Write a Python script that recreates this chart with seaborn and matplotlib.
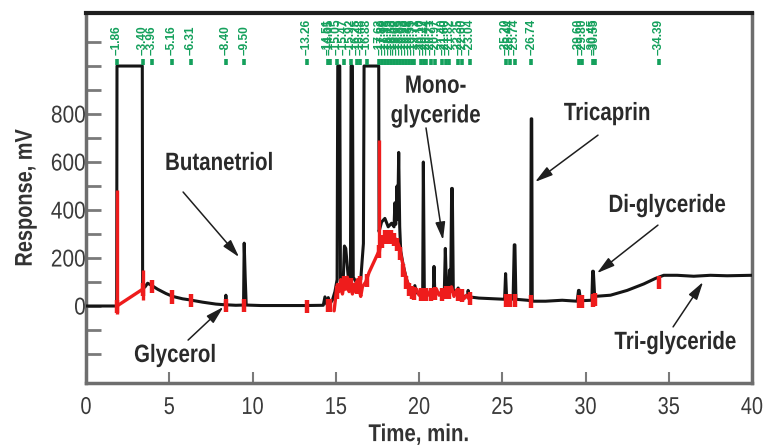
import matplotlib
matplotlib.use("Agg")
import matplotlib.pyplot as plt
from matplotlib.patheffects import AbstractPathEffect
from matplotlib.transforms import Affine2D
import numpy as np
import pandas as pd
import seaborn as sns

# ---------------- data ----------------
# black detector trace (time in min, response in mV), split by region
tA = [0, 1.84, 1.86, 3.38, 3.40, 3.55, 3.70, 3.96, 4.30, 4.80, 5.14, 5.16, 5.20, 5.80, 6.29, 6.31, 6.35,
      7.00, 7.80, 8.36, 8.40, 8.44, 9.00, 9.46, 9.50, 9.56, 9.62]
vA = [0, 0, 1000, 1000, 72, 80, 95, 85, 70, 52, 42, 48, 40, 30, 25, 30, 24,
      16, 8, 5, 45, 5, 3, 4, 262, 120, 4]
tB = [10.5, 12.0, 13.2, 14.25, 14.35, 14.45, 14.55, 14.65, 14.80, 14.95, 15.08, 15.12, 15.24, 15.28,
      15.45, 15.52, 15.60, 15.75, 15.88, 15.92, 16.00, 16.05, 16.30, 16.50, 16.66, 16.70, 17.58, 17.60]
vB = [2, 2, 2, 3, 38, 8, 35, 10, 25, 60, 110, 1000, 1000, 100,
      110, 250, 240, 120, 110, 1000, 1000, 120, 90, 110, 260, 1000, 1000, 310]
tC = [17.75, 17.95, 18.15, 18.35, 18.50, 18.55, 18.60, 18.68, 18.72, 18.78, 18.84, 18.90, 19.05, 19.25,
      19.45, 19.65, 19.75, 19.85, 20.15, 20.22, 20.26, 20.32, 20.60, 20.86, 20.90, 20.95, 21.30, 21.52,
      21.58, 21.65, 21.78, 21.83, 21.90, 21.96, 22.00, 22.06, 22.30, 22.35, 22.45, 22.90, 22.95, 23.02, 23.60]
vC = [350, 365, 330, 345, 330, 430, 340, 500, 360, 640, 330, 230, 170, 110,
      75, 60, 85, 55, 50, 50, 600, 50, 50, 55, 165, 55, 50, 60,
      240, 70, 60, 150, 60, 490, 490, 60, 65, 75, 45, 38, 65, 38, 33]
tD = [24.50, 25.14, 25.20, 25.26, 25.65, 25.72, 25.76, 25.82, 26.50, 26.71, 26.74, 26.77, 26.80, 27.60,
      28.60, 29.50, 29.58, 29.62, 29.70, 30.38, 30.43, 30.47, 30.55, 31.50, 32.50, 33.50, 34.20, 34.70,
      35.50, 36.50, 37.50, 38.50, 40.00]
vD = [30, 28, 135, 35, 28, 255, 255, 28, 24, 22, 780, 780, 20, 20,
      24, 20, 65, 65, 22, 24, 145, 145, 40, 45, 65, 92, 115, 128,
      128, 124, 128, 126, 128]

# red integration baseline
red1_t = [1.86, 3.40]
red1_v = [0, 70]
red2_t = [14.90, 15.00, 15.10, 15.20, 15.30, 15.40, 15.50, 15.60, 15.70, 15.80, 15.90, 16.00, 16.10, 16.20,
          16.30, 16.40, 16.50, 16.60, 16.80, 17.00, 17.20, 17.40, 17.60, 17.75, 17.90, 18.05, 18.20, 18.35,
          18.50, 18.65, 18.80, 18.95, 19.10, 19.25, 19.40, 19.55, 19.70, 19.85, 20.00, 20.15, 20.30, 20.45,
          20.60, 20.75, 20.90, 21.05, 21.20, 21.35, 21.50, 21.65, 21.80, 21.95, 22.10, 22.25, 22.40, 22.55,
          22.70, 22.85, 23.00, 23.15]
red2_v = [-20, 40, 90, 60, 110, 50, 90, 70, 120, 60, 100, 50, 90, 60,
          110, 70, 40, 80, 100, 140, 170, 200, 230, 265, 285, 295, 280, 295,
          285, 275, 250, 200, 150, 110, 80, 70, 55, 70, 45, 60, 40, 65,
          45, 55, 40, 70, 45, 60, 40, 75, 50, 80, 40, 65, 35, 50,
          30, 45, 30, 35]
# red vertical peak edges
redseg_t = [1.86, 3.40, 17.60]
redseg_lo = [-35, 25, 230]
redseg_hi = [483, 150, 690]

# retention times (green labels) and local baseline for red peak marks
rt = [1.86, 3.40, 3.96, 5.16, 6.31, 8.40, 9.50, 13.26, 14.51, 14.65, 15.05, 15.47, 15.92, 16.25, 16.48,
      16.88, 17.62, 17.80, 17.98, 18.15, 18.33, 18.50, 18.68, 18.85, 19.03, 19.20, 19.38, 19.55, 19.71,
      20.10, 20.27, 20.44, 20.71, 20.97, 21.40, 21.60, 21.82, 22.35, 22.60, 23.04, 25.20, 25.44, 25.74,
      26.74, 29.60, 29.80, 30.45, 30.55, 34.39]
rt_base = [0, 70, 85, 40, 25, 5, 5, 0, 5, 5, 60, 100, 90, 80, 100,
           110, 230, 270, 290, 290, 290, 280, 260, 220, 150, 100, 70, 60, 55,
           50, 50, 50, 50, 55, 50, 60, 60, 50, 45, 35, 25, 25, 25,
           20, 20, 20, 25, 30, 100]

y_ticks = list(range(-200, 1101, 100))
y_labels = ["0", "200", "400", "600", "800"]
x_ticks = list(range(0, 41, 5))


# narrow (condensed) look for text: squeeze glyph paths along the text direction
class Narrow(AbstractPathEffect):
    def __init__(self, sx=0.82, anchor="center"):
        super().__init__()
        self.sx = sx
        self.anchor = anchor

    def draw_path(self, renderer, gc, tpath, affine, rgbFace=None):
        ext = tpath.get_extents()
        if self.anchor == "right":
            cx = ext.x1
        elif self.anchor == "left":
            cx = ext.x0
        else:
            cx = 0.5 * (ext.x0 + ext.x1)
        sq = Affine2D().translate(-cx, 0).scale(self.sx, 1).translate(cx, 0)
        renderer.draw_path(gc, tpath, sq + affine, rgbFace)


# ---------------- plot ----------------
sns.set_theme(style="white")
plt.rcParams["font.family"] = ["Liberation Sans", "DejaVu Sans"]

fig = plt.figure(figsize=(7.64, 4.48), dpi=100)
ax = fig.add_axes([0.1126, 0.145, 0.8717, 0.826])

black = pd.DataFrame({"t": tA + tB + tC + tD, "v": vA + vB + vC + vD})
sns.lineplot(data=black, x="t", y="v", sort=False, estimator=None, color="#151515",
             lw=2.2, ax=ax, zorder=3)

red = pd.DataFrame({"t": red1_t + red2_t, "v": red1_v + red2_v,
                    "seg": [0] * len(red1_t) + [1] * len(red2_t)})
sns.lineplot(data=red, x="t", y="v", units="seg", sort=False, estimator=None,
             color="#ee1c1c", lw=2.4, ax=ax, zorder=4)

ax.vlines(redseg_t, redseg_lo, redseg_hi, color="#ee1c1c", lw=2.4, zorder=4)
base = np.array(rt_base)
ax.vlines(rt, base - 30, base + 25, color="#ee1c1c", lw=3.2, zorder=5)

green = "#14a05c"
ax.vlines(rt, 1005, 1030, color=green, lw=2.6, zorder=5)
for r in rt:
    ax.text(r, 1048, "\u2013" + f"{r:.2f}", rotation=90, ha="center", va="bottom",
            fontsize=8.6, fontweight="bold", color=green, zorder=6)

ax.set_xlim(0, 40)
ax.set_ylim(-321, 1221)
ax.set_xticks(x_ticks)
ax.set_xticklabels([str(x) for x in x_ticks])
ax.set_yticks(y_ticks)
ax.set_yticklabels([y_labels[(y // 200)] if (0 <= y <= 800 and y % 200 == 0) else ""
                    for y in y_ticks])

ax.tick_params(axis="y", direction="in", length=11, width=2, color="#7a7a7a",
               labelsize=17.5, labelcolor="#3a3a3a", pad=0, left=True)
ax.tick_params(axis="x", direction="in", length=8, width=1.5, color="#7a7a7a",
               labelsize=17.5, labelcolor="#3a3a3a", pad=10, bottom=True)

for side in ["left", "bottom", "right"]:
    ax.spines[side].set_color("#6e6e6e")
    ax.spines[side].set_linewidth(2.5)
ax.spines["top"].set_color("#1e1e1e")
ax.spines["top"].set_linewidth(3)

ax.set_xlabel("Time, min.", fontsize=17.5, fontweight="bold", color="#333333", labelpad=3)
ax.set_ylabel("Response, mV", fontsize=17.5, fontweight="bold", color="#333333")
ax.xaxis.label.set_path_effects([Narrow(0.84)])
ax.yaxis.label.set_path_effects([Narrow(0.82)])
ax.yaxis.set_label_coords(-0.074, 0.5)
for lab in ax.get_xticklabels():
    lab.set_path_effects([Narrow(0.82)])
for lab in ax.get_yticklabels():
    lab.set_path_effects([Narrow(0.86, anchor="right")])

# annotations
txt_kw = dict(fontsize=18, fontweight="bold", color="#2a2a2a", ha="center", va="center",
              zorder=7, path_effects=[Narrow(0.82)])
arrow = dict(arrowstyle="-|>,head_length=0.9,head_width=0.25", color="#1e1e1e", lw=1.1,
             shrinkA=0, shrinkB=0)

ax.text(7.99, 596, "Butanetriol", **txt_kw)
ax.annotate("", xy=(9.19, 204), xytext=(5.83, 475), arrowprops=arrow, zorder=7)

ax.text(5.35, -204, "Glycerol", **txt_kw)
ax.annotate("", xy=(8.25, -4), xytext=(6.13, -142), arrowprops=arrow, zorder=7)

ax.text(21.0, 856, "Mono-\nglyceride", linespacing=1.3, **txt_kw)
ax.annotate("", xy=(21.44, 275), xytext=(20.42, 742), arrowprops=arrow, zorder=7)

ax.text(31.3, 804, "Tricaprin", **txt_kw)
ax.annotate("", xy=(26.97, 517), xytext=(30.75, 712), arrowprops=arrow, zorder=7)

ax.text(34.9, 421, "Di-glyceride", **txt_kw)
ax.annotate("", xy=(30.69, 137), xytext=(34.35, 337), arrowprops=arrow, zorder=7)

ax.text(35.4, -150, "Tri-glyceride", **txt_kw)
ax.annotate("", xy=(37.06, 100), xytext=(35.26, -87), arrowprops=arrow, zorder=7)

fig.savefig("out.png", dpi=100, facecolor="white")
